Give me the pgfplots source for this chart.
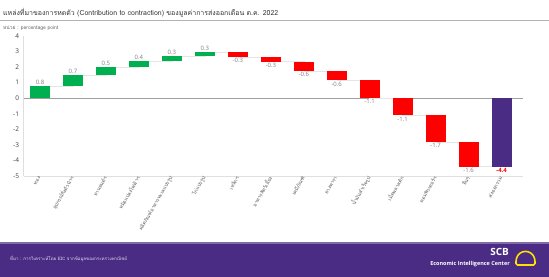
\documentclass[border=0pt]{standalone}
\usepackage{pgfplots}
\pgfplotsset{compat=1.18}
\usepackage{fontspec}
\setmainfont{Open Sans}
\newfontfamily\thaifont[Script=Thai]{Loma}
\definecolor{pgreen}{HTML}{00B050}
\definecolor{pred}{HTML}{FF0000}
\definecolor{ppurple}{HTML}{4B2C84}
\definecolor{lbl}{HTML}{7F7F7F}
\definecolor{tick}{HTML}{404040}
\begin{document}
\begin{tikzpicture}
\path[use as bounding box, fill=white] (0bp,0bp) rectangle (549bp,277bp);
% header
\node[anchor=west, inner sep=0, font=\thaifont\fontsize{7}{8}\selectfont, text=black!80] at (3bp,264bp) {แหล่งที่มาของการหดตัว (Contribution to contraction) ของมูลค่าการส่งออกเดือน ต.ค. 2022};
\draw[gray!60, line width=0.6] (0bp,256.5bp) -- (549bp,256.5bp);
\node[anchor=west, inner sep=0, font=\thaifont\fontsize{5}{6}\selectfont, text=black!60] at (3bp,249bp) {หน่วย : percentage point};
% bars
\begin{axis}[at={(23.5bp,101bp)}, anchor=south west, scale only axis,
  width=499.5bp, height=140bp,
  xmin=-0.5, xmax=14.65, ymin=-5, ymax=4,
  axis x line*=bottom, axis y line*=left,
  axis line style={draw=gray!25, line width=0.6},
  x axis line style={-}, y axis line style={-},
  major tick length=0pt,
  ytick={-5,-4,-3,-2,-1,0,1,2,3,4},
  yticklabel style={font=\fontsize{6.5}{7}\selectfont, text=tick, xshift=-1bp},
  /pgf/number format/assume math mode=true,
  extra y ticks={0}, extra y tick labels={},
  extra y tick style={grid=major, major grid style={draw=gray!75, line width=0.8}},
  xtick={0,1,2,3,4,5,6,7,8,9,10,11,12,13,14},
  xticklabels={ทอง, อุปกรณ์กึ่งตัวนำฯ, ยานยนต์ฯ, หม้อแปลงไฟฟ้าฯ, ผลิตภัณฑ์อาหารทะเลแปรรูป, ไก่แปรรูป, เหล็กฯ, อาหารสัตว์เลี้ยง, เคมีภัณฑ์, ยางพารา, น้ำมันสำเร็จรูป, เม็ดพลาสติก, คอมพิวเตอร์ฯ, อื่นๆ, ส่งออกรวม},
  xticklabel style={rotate=60, anchor=east, inner sep=1bp, font=\thaifont\fontsize{5}{6}\selectfont, text=black!65},
  clip=false,
]
% faint connectors between bars (running total)
\addplot[const plot, no marks, draw=gray!20, line width=0.4]
  coordinates {(0,0.8) (1,1.5) (2,2.0) (3,2.4) (4,2.7) (5,2.95) (6,2.65) (7,2.35) (8,1.75) (9,1.15) (10,0) (11,-1.1) (12,-2.8) (13,-4.4) (14,-4.4)};
% increases: (x, mid) +- (0, half)
\addplot[draw=none, mark=none, error bars/.cd, y dir=both, y explicit, error mark=none,
  error bar style={line width=20bp, draw=pgreen}]
  coordinates {(0,0.4) +- (0,0.4) (1,1.15) +- (0,0.35) (2,1.75) +- (0,0.25) (3,2.2) +- (0,0.2) (4,2.55) +- (0,0.15) (5,2.825) +- (0,0.125)};
% decreases
\addplot[draw=none, mark=none, error bars/.cd, y dir=both, y explicit, error mark=none,
  error bar style={line width=20bp, draw=pred}]
  coordinates {(6,2.8) +- (0,0.15) (7,2.5) +- (0,0.15) (8,2.05) +- (0,0.3) (9,1.45) +- (0,0.3) (10,0.575) +- (0,0.575) (11,-0.55) +- (0,0.55) (12,-1.95) +- (0,0.85) (13,-3.6) +- (0,0.8)};
% total
\addplot[draw=none, mark=none, error bars/.cd, y dir=both, y explicit, error mark=none,
  error bar style={line width=20bp, draw=ppurple}]
  coordinates {(14,-2.2) +- (0,2.2)};
% value labels
\addplot[only marks, mark=none, nodes near coords, point meta=explicit symbolic,
  nodes near coords style={anchor=south, inner sep=1.2bp, font=\fontsize{6}{7}\selectfont, text=lbl}]
  coordinates {(0,0.8)[0.8] (1,1.5)[0.7] (2,2.0)[0.5] (3,2.4)[0.4] (4,2.7)[0.3] (5,2.95)[0.3]};
\addplot[only marks, mark=none, nodes near coords, point meta=explicit symbolic,
  nodes near coords style={anchor=north, inner sep=1.2bp, font=\fontsize{6}{7}\selectfont, text=lbl}]
  coordinates {(6,2.65)[-0.3] (7,2.35)[-0.3] (8,1.75)[-0.6] (9,1.15)[-0.6] (10,0)[-1.1] (11,-1.1)[-1.1] (12,-2.8)[-1.7] (13,-4.4)[-1.6]};
\addplot[only marks, mark=none, nodes near coords, point meta=explicit symbolic,
  nodes near coords style={anchor=north, inner sep=1.2bp, font=\fontsize{6}{7}\selectfont\bfseries, text=pred}]
  coordinates {(14,-4.4)[-4.4]};
\end{axis}
% footer
\fill[ppurple] (0bp,0bp) rectangle (549bp,34bp);
\fill[ppurple!70!white] (0bp,33bp) rectangle (549bp,34.5bp);
\node[anchor=west, inner sep=0, font=\thaifont\fontsize{4.5}{5}\selectfont, text=white!85!ppurple] at (10bp,18bp) {ที่มา : การวิเคราะห์โดย EIC จากข้อมูลของกระทรวงพาณิชย์};
\node[anchor=east, inner sep=0, font=\fontsize{10}{10}\selectfont\bfseries, text=white] at (509bp,25bp) {SCB};
\node[anchor=east, inner sep=0, font=\fontsize{5.5}{6}\selectfont\bfseries, text=white] at (510bp,13bp) {Economic Intelligence Center};
\draw[yellow!85!orange, line width=1.6, rounded corners=1.5] (516bp,12bp) -- (535bp,12bp) -- (535bp,17bp) .. controls (532bp,28bp) and (519bp,28bp) .. (516bp,17bp) -- cycle;
\end{tikzpicture}
\end{document}
